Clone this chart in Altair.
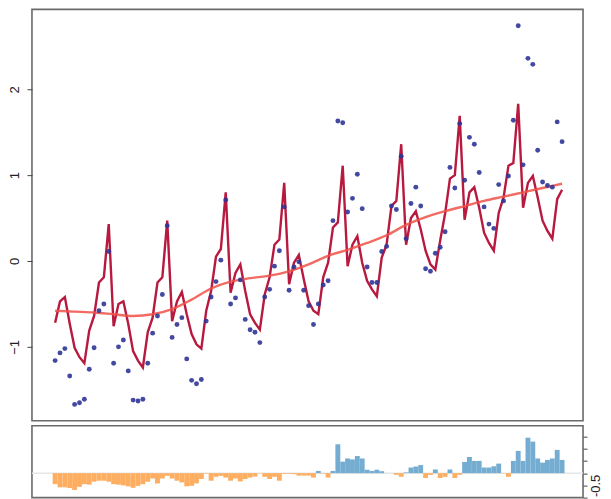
import altair as alt
import pandas as pd

# month index of each observation
months = list(range(105))

# observed values (dots)
observed = [
    -1.16, -1.07, -1.02, -1.34, -1.67, -1.65, -1.61, -1.26, -1.01, -0.58, -0.50, 0.11,
    -1.19, -1.00, -0.92, -1.28, -1.62, -1.63, -1.61, -1.19, -0.84, -0.64, -0.39, 0.41,
    -0.89, -0.74, -0.66, -1.14, -1.39, -1.43, -1.38, -0.70, -0.42, -0.24, 0.01, 0.71,
    -0.50, -0.43, -0.22, -0.68, -0.80, -0.83, -0.95, -0.42, -0.33, -0.06, 0.12, 0.63,
    -0.34, -0.07, -0.01, -0.34, -0.52, -0.74, -0.50, -0.28, -0.23, 0.47, 1.63, 1.61,
    0.57, 0.73, 1.01, 0.61, -0.07, -0.25, -0.25, 0.11, 0.17, 0.64, 0.60, 1.22,
    0.26, 0.67, 0.86, 0.64, -0.09, -0.12, 0.09, 0.16, 0.34, 1.09, 0.85, 1.60,
    0.94, 1.44, 1.36, 1.03, 0.63, 0.43, 0.38, 0.89, 0.70, 0.99, 1.64, 2.74,
    1.12, 2.36, 2.29, 1.29, 0.92, 0.88, 0.86, 1.62, 1.39,
]

# fitted seasonal curve (crimson line)
fitted = [
    -0.72, -0.47, -0.42, -0.73, -1.01, -1.12, -1.19, -0.81, -0.64, -0.25, -0.19, 0.43,
    -0.76, -0.50, -0.47, -0.73, -1.05, -1.16, -1.24, -0.83, -0.66, -0.25, -0.19, 0.47,
    -0.70, -0.47, -0.36, -0.62, -0.85, -0.97, -1.02, -0.58, -0.35, 0.05, 0.14, 0.80,
    -0.37, -0.14, -0.04, -0.35, -0.62, -0.72, -0.80, -0.39, -0.19, 0.19, 0.25, 0.91,
    -0.27, -0.02, 0.07, -0.21, -0.47, -0.58, -0.62, -0.19, -0.02, 0.39, 0.45, 1.11,
    -0.06, 0.19, 0.29, -0.02, -0.23, -0.33, -0.41, 0.04, 0.19, 0.64, 0.70, 1.36,
    0.19, 0.50, 0.58, 0.37, 0.12, -0.04, -0.10, 0.24, 0.55, 0.96, 1.00, 1.69,
    0.48, 0.80, 0.86, 0.62, 0.33, 0.21, 0.12, 0.56, 0.74, 1.11, 1.14, 1.83,
    0.62, 0.91, 0.99, 0.74, 0.47, 0.35, 0.26, 0.72, 0.83,
]

# smooth trend (salmon line), read at knots
trend_months = [0, 4, 8, 12, 16, 20, 24, 28, 32, 36, 40, 44, 48, 52,
                56, 60, 64, 68, 72, 76, 80, 84, 88, 92, 96, 100, 104]
trend_values = [-0.58, -0.59, -0.60, -0.62, -0.64, -0.62, -0.56, -0.45, -0.32, -0.24,
                -0.20, -0.17, -0.12, -0.04, 0.06, 0.13, 0.21, 0.30, 0.42, 0.51,
                0.58, 0.64, 0.70, 0.75, 0.80, 0.85, 0.90]

# lower panel bars
residuals = [
    -0.45, -0.58, -0.58, -0.61, -0.69, -0.56, -0.45, -0.47, -0.35, -0.31,
    -0.31, -0.35, -0.45, -0.47, -0.50, -0.54, -0.60, -0.52, -0.45, -0.35,
    -0.22, -0.42, -0.22, -0.11, -0.22, -0.31, -0.38, -0.54, -0.52, -0.42,
    -0.24, -0.02, -0.31, -0.15, -0.11, -0.18, -0.31, -0.22, -0.34, -0.24,
    -0.18, -0.14, -0.01, -0.15, -0.24, -0.15, -0.31, -0.03, -0.03, -0.04,
    -0.10, -0.10, -0.10, -0.18, 0.09, -0.02, -0.18, 0.09, 1.18, 0.47,
    0.60, 0.56, 0.70, 0.60, 0.14, 0.09, 0.14, 0.08, 0.0, 0.0,
    -0.07, -0.15, 0.03, 0.23, 0.27, 0.33, -0.20, -0.07, 0.15, -0.20,
    -0.15, 0.15, -0.20, -0.07, 0.46, 0.66, 0.50, 0.50, 0.23, 0.23,
    0.28, 0.39, -0.01, -0.15, 0.50, 0.91, 0.50, 1.45, 1.29, 0.60,
    0.43, 0.54, 0.60, 0.95, 0.54,
]

top_ticks = [-1, 0, 1, 2]
bottom_ticks = [-1, -0.5, 0, 0.5, 1, 1.5]

pts_df = pd.DataFrame({"t": months, "obs": observed, "fit": fitted})
trend_df = pd.DataFrame({"t": trend_months, "trend": trend_values})
res_df = pd.DataFrame({"t": months, "res": residuals})
res_df["t0"] = res_df["t"] - 0.5
res_df["t1"] = res_df["t"] + 0.5
res_df["z"] = 0.0
res_df["sign"] = ["pos" if v >= 0 else "neg" for v in residuals]

FONT = "Liberation Sans"
xscale = alt.Scale(domain=[-4.75, 108.3], nice=False, zero=False)
top_y = alt.Scale(domain=[-1.86, 2.93], nice=False, zero=False)
bot_y = alt.Scale(domain=[-1.0, 1.94], nice=False, zero=False)

yaxis = alt.Axis(values=top_ticks, labelAngle=-90, tickSize=5, labelPadding=5,
                 domain=False, grid=False, title=None, labelFontSize=13,
                 labelFont=FONT, labelColor="#222222", tickColor="#444444")

fit_line = alt.Chart(pts_df).mark_line(color="#b8193f", strokeWidth=2.4).encode(
    x=alt.X("t:Q", scale=xscale, axis=None),
    y=alt.Y("fit:Q", scale=top_y, axis=yaxis),
)
trend_line = alt.Chart(trend_df).mark_line(
    color="#ee5148", strokeWidth=2.4, opacity=0.85, interpolate="monotone"
).encode(
    x=alt.X("t:Q", scale=xscale, axis=None),
    y=alt.Y("trend:Q", scale=top_y, axis=yaxis),
)
points = alt.Chart(pts_df).mark_circle(color="#2f3596", size=24, opacity=0.9).encode(
    x=alt.X("t:Q", scale=xscale, axis=None),
    y=alt.Y("obs:Q", scale=top_y, axis=yaxis),
)
top = alt.layer(fit_line, trend_line, points).properties(width=552, height=412)

raxis = alt.Axis(orient="right", values=bottom_ticks,
                 labelExpr="datum.value == -0.5 ? '-0.5' : ''",
                 labelAngle=-90, tickSize=4, labelPadding=2, domain=False,
                 grid=False, title=None, labelFontSize=13, labelFont=FONT,
                 labelColor="#222222", tickColor="#444444")

zero_rule = alt.Chart(alt.Data(values=[{"z": 0}])).mark_rule(
    color="#e6e6e6", strokeWidth=1.5
).encode(y=alt.Y("z:Q", scale=bot_y, axis=raxis))

bars = alt.Chart(res_df).mark_bar().encode(
    x=alt.X("t0:Q", scale=xscale, axis=None),
    x2="t1",
    y=alt.Y("res:Q", scale=bot_y, axis=raxis),
    y2="z",
    color=alt.Color("sign:N", scale=alt.Scale(domain=["neg", "pos"],
                    range=["#fdae61", "#74add1"]), legend=None),
)
bottom = alt.layer(zero_rule, bars).properties(width=552, height=72)

chart = alt.vconcat(top, bottom, spacing=3).properties(
    padding={"left": 0, "top": 0, "right": 0, "bottom": 0}
).configure_view(stroke="#6a6a6a", strokeWidth=1.6)

chart.save("out.html", embed_options={"renderer": "svg", "actions": False})
